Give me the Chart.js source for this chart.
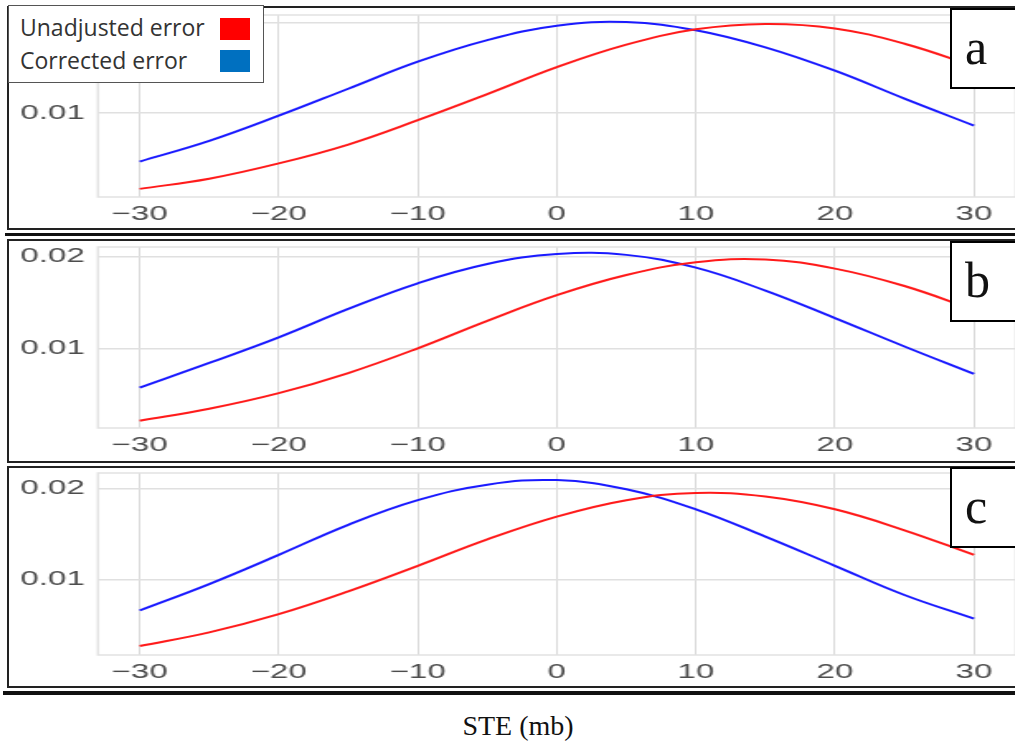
<!DOCTYPE html>
<html>
<head>
<meta charset="utf-8">
<title>STE error density</title>
<script src="https://cdn.jsdelivr.net/npm/chart.js@4.4.1/dist/chart.umd.min.js"></script>
<style>
  html, body { margin: 0; padding: 0; background: #fff; }
  body { width: 1015px; height: 746px; overflow: hidden; position: relative; }
  .frame { position: absolute; left: 7px; width: 1100px; border: 2px solid #222; box-sizing: border-box; }
  .rule { position: absolute; width: 1100px; background: #111; }
  .plot { position: absolute; left: 10px; transform-origin: 0 0; }
  .tag { position: absolute; left: 950px; width: 100px; height: 81px; border: 2px solid #000;
         box-sizing: border-box; background: #fff; z-index: 5; }
  .tag span { position: absolute; left: 13px; top: 12px; font-family: "Liberation Serif", "Times New Roman", serif;
              font-size: 50px; line-height: 50px; color: #111; }
  #legend { position: absolute; left: 8px; top: 5px; width: 256px; height: 78px; border: 1.5px solid #555;
            box-sizing: border-box; background: #fff; z-index: 5; font-family: "Open Sans", sans-serif;
            font-size: 23px; color: #333; }
  #legend .row { position: absolute; left: 11px; line-height: 33px; white-space: nowrap; }
  #legend .swatch { position: absolute; left: 211px; width: 30px; height: 22px; }
  #xtitle { position: absolute; left: 418px; top: 712px; width: 200px; text-align: center;
            font-family: "Liberation Serif", "Times New Roman", serif; font-size: 28px; line-height: 28px; color: #111; }
</style>
</head>
<body>
<div id="legend"></div>
<div id="xtitle">STE (mb)</div>

<script>
// ---- data ----
const steValues = [-30, -25, -20, -15, -10, -5, 0, 5, 10, 15, 20, 25, 30];
const xTicks = [-30, -20, -10, 0, 10, 20, 30];
const yTicks = [0.01, 0.02];
const seriesNames = ['Unadjusted error', 'Corrected error'];
const panelLabels = ['a', 'b', 'c'];

const unadjustedA = [0.00157, 0.0027, 0.0044, 0.0065, 0.0092, 0.0121, 0.0151, 0.0176, 0.0193, 0.0199, 0.0194, 0.0177, 0.0152];
const correctedA  = [0.0046, 0.0069, 0.0097, 0.0127, 0.0157, 0.0181, 0.0197, 0.0201, 0.0192, 0.0173, 0.0147, 0.0116, 0.0086];

const unadjustedB = [0.0021, 0.0034, 0.0051, 0.0073, 0.0100, 0.0130, 0.0158, 0.0180, 0.0194, 0.0197, 0.0187, 0.0168, 0.0142];
const correctedB  = [0.0057, 0.0084, 0.0112, 0.0143, 0.0171, 0.0192, 0.0203, 0.0202, 0.0188, 0.0163, 0.0133, 0.0102, 0.0072];

const unadjustedC = [0.0027, 0.0042, 0.0062, 0.0087, 0.0115, 0.0144, 0.0169, 0.0187, 0.0195, 0.0191, 0.0177, 0.0154, 0.0127];
const correctedC  = [0.0066, 0.0095, 0.0127, 0.0160, 0.0187, 0.0204, 0.0209, 0.0199, 0.0177, 0.0147, 0.0115, 0.0083, 0.0057];

// y range of each panel
const yRanges = [[0.00067, 0.02089], [0.0013, 0.02106], [0.00172, 0.02168]];

// ---- styles / layout ----
const lineColors = ['#ff1a1a', '#1a1aff'];
const swatchColors = ['#ff0000', '#0070c0'];
const STRETCH = 1.65;       // plots are drawn narrow and widened
const CANVAS_W = 620;
const Y_AXIS_W = 53.3;
const PAD_RIGHT = 10.5;
const tickFont = { family: '"Liberation Sans", Arial, sans-serif', size: 20 };

const layouts = [
  { frameTop: 6,   frameH: 224, top: 9,   height: 220, padTop: 6, xAxisH: 32, tagTop: 8,   ruleTop: 232.5, ruleH: 3 },
  { frameTop: 239, frameH: 224, top: 241, height: 220, padTop: 6, xAxisH: 33, tagTop: 241, ruleTop: null },
  { frameTop: 466, frameH: 222, top: 468, height: 218, padTop: 5, xAxisH: 31, tagTop: 467, ruleTop: 691, ruleH: 4 }
];
const panelSeries = [[unadjustedA, correctedA], [unadjustedB, correctedB], [unadjustedC, correctedC]];

// light grey box round the plotting area
const plotBorder = {
  id: 'plotBorder',
  beforeDatasetsDraw(chart) {
    const { ctx, chartArea: a } = chart;
    ctx.save();
    ctx.strokeStyle = '#e2e2e2';
    ctx.lineWidth = 1.5;
    ctx.strokeRect(a.left, a.top, a.right - a.left, a.bottom - a.top);
    ctx.restore();
  }
};

function minusLabel(v) {
  return v < 0 ? '\u2212' + Math.abs(v) : String(v);
}

// legend
const legendEl = document.getElementById('legend');
seriesNames.forEach((name, i) => {
  const row = document.createElement('div');
  row.className = 'row';
  row.style.top = (5.4 + 33 * i) + 'px';
  row.textContent = name;
  legendEl.appendChild(row);
  const sw = document.createElement('div');
  sw.className = 'swatch';
  sw.style.top = (11.5 + 32.5 * i) + 'px';
  sw.style.background = swatchColors[i];
  legendEl.appendChild(sw);
});

layouts.forEach((lay, idx) => {
  const frame = document.createElement('div');
  frame.className = 'frame';
  frame.style.top = lay.frameTop + 'px';
  frame.style.height = lay.frameH + 'px';
  document.body.appendChild(frame);

  if (lay.ruleTop !== null) {
    const rule = document.createElement('div');
    rule.className = 'rule';
    rule.style.left = (idx === 2 ? 3 : 5) + 'px';
    rule.style.top = lay.ruleTop + 'px';
    rule.style.height = lay.ruleH + 'px';
    document.body.appendChild(rule);
  }

  const tag = document.createElement('div');
  tag.className = 'tag';
  tag.style.top = lay.tagTop + 'px';
  tag.innerHTML = '<span>' + panelLabels[idx] + '</span>';
  document.body.appendChild(tag);

  const wrap = document.createElement('div');
  wrap.className = 'plot';
  wrap.style.top = lay.top + 'px';
  wrap.style.transform = 'scaleX(' + STRETCH + ')';
  const canvas = document.createElement('canvas');
  canvas.width = CANVAS_W;
  canvas.height = lay.height;
  wrap.appendChild(canvas);
  document.body.appendChild(wrap);

  const [unadj, corr] = panelSeries[idx];
  const [yMin, yMax] = yRanges[idx];

  new Chart(canvas.getContext('2d'), {
    type: 'line',
    data: {
      datasets: [
        {
          label: seriesNames[0],
          data: steValues.map((x, i) => ({ x, y: unadj[i] })),
          borderColor: lineColors[0],
          borderWidth: 2,
          pointRadius: 0,
          tension: 0.4,
          fill: false
        },
        {
          label: seriesNames[1],
          data: steValues.map((x, i) => ({ x, y: corr[i] })),
          borderColor: lineColors[1],
          borderWidth: 2,
          pointRadius: 0,
          tension: 0.4,
          fill: false
        }
      ]
    },
    options: {
      responsive: false,
      animation: false,
      layout: { padding: { top: lay.padTop, right: PAD_RIGHT, left: 0, bottom: 0 } },
      plugins: { legend: { display: false }, tooltip: { enabled: false } },
      scales: {
        x: {
          type: 'linear',
          min: -33,
          max: 33,
          afterBuildTicks: s => { s.ticks = xTicks.map(v => ({ value: v })); },
          afterFit: s => { s.height = lay.xAxisH; s.paddingLeft = 0; s.paddingRight = 0; },
          grid: { color: '#dadada', lineWidth: 1, drawTicks: false },
          border: { display: false },
          ticks: { padding: 5, color: '#4d4d4d', font: tickFont, maxRotation: 0, autoSkip: false, callback: minusLabel }
        },
        y: {
          type: 'linear',
          min: yMin,
          max: yMax,
          afterBuildTicks: s => { s.ticks = yTicks.map(v => ({ value: v })); },
          afterFit: s => { s.width = Y_AXIS_W; s.paddingTop = 0; s.paddingBottom = 0; },
          grid: { color: '#e0e0e0', lineWidth: 1.5, drawTicks: false },
          border: { display: false },
          ticks: { padding: 8, color: '#4d4d4d', font: tickFont, callback: v => v.toFixed(2) }
        }
      }
    },
    plugins: [plotBorder]
  });
});
</script>
</body>
</html>
